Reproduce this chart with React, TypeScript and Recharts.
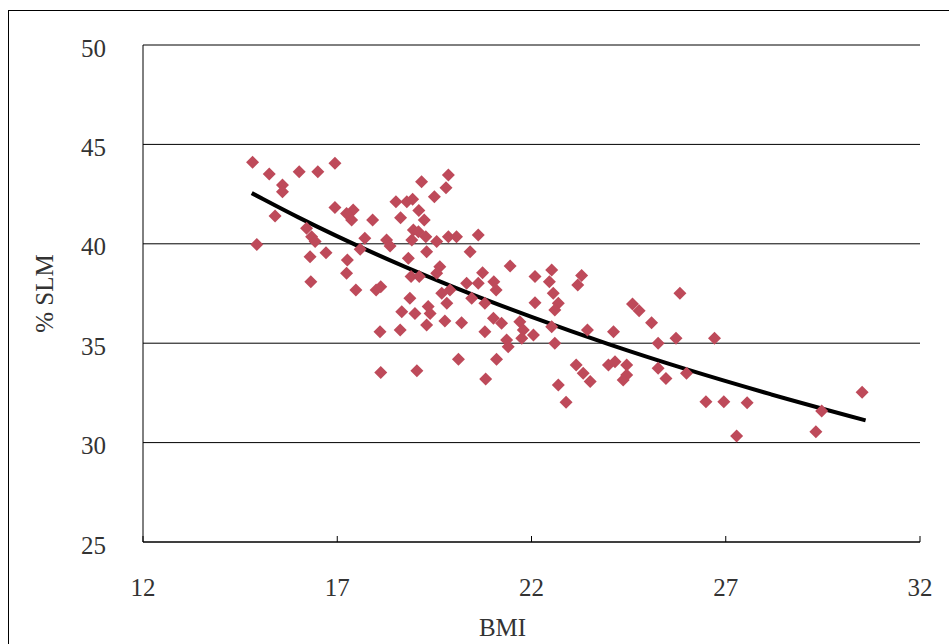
import React from "react";
import {
  ComposedChart,
  Scatter,
  Line,
  XAxis,
  YAxis,
  CartesianGrid,
} from "recharts";

// BMI / %SLM pairs
const bmi = [
  14.82, 15.25, 16.02, 16.5, 16.94, 15.59, 15.59, 15.4, 14.93, 16.94, 16.21,
  16.34, 16.43, 16.71, 16.3, 16.32,
  19.17, 19.86, 19.8, 19.5, 18.51, 18.79, 18.94, 19.1, 18.63, 19.24, 17.91,
  17.41, 17.24, 17.37, 18.96, 19.09, 18.92, 19.28, 19.56, 19.86, 20.07, 20.63,
  17.71, 18.27, 18.36, 17.59, 19.3, 20.42, 18.83, 17.26, 17.24, 19.64, 18.9,
  19.11, 19.56, 21.45, 22.52, 20.74, 21.03, 21.09, 20.63, 20.33, 22.09, 22.46,
  22.56, 19.9, 19.69, 19.82, 17.48, 18.0, 18.12, 18.87, 19.34, 19.39, 18.66,
  19.0, 22.09, 22.69, 22.6, 20.46, 20.8, 21.02, 21.23,
  19.3, 19.77, 20.2, 20.8, 18.1, 18.62, 20.12, 21.1, 18.12, 19.05, 20.82,
  21.7, 21.79, 22.05, 21.75, 21.36, 21.4, 22.52, 22.6, 23.44, 24.11, 23.15,
  23.33, 23.51, 22.69, 22.89, 23.98, 24.15, 24.45, 24.45, 24.36, 24.6, 24.77,
  25.09, 25.82, 25.26, 25.72, 26.71, 25.26, 25.46, 25.99, 26.49, 26.95, 23.19,
  23.29,
  27.55, 27.28, 29.47, 29.32, 30.51,
];

const slm = [
  44.1, 43.51, 43.63, 43.63, 44.05, 42.96, 42.62, 41.4, 39.97, 41.82, 40.78,
  40.36, 40.11, 39.55, 39.35, 38.09,
  43.12, 43.46, 42.82, 42.37, 42.12, 42.12, 42.24, 41.67, 41.31, 41.2, 41.2,
  41.7, 41.53, 41.2, 40.69, 40.61, 40.19, 40.36, 40.11, 40.36, 40.36, 40.44,
  40.28, 40.19, 39.89, 39.72, 39.6, 39.6, 39.27, 39.18, 38.52, 38.85, 38.35,
  38.35, 38.52, 38.88, 38.68, 38.55, 38.09, 37.68, 38.01, 38.01, 38.35, 38.09,
  37.51, 37.68, 37.51, 37.01, 37.68, 37.68, 37.84, 37.26, 36.84, 36.5, 36.58,
  36.5, 37.04, 37.01, 36.67, 37.26, 37.01, 36.25, 36.0,
  35.92, 36.12, 36.03, 35.58, 35.58, 35.66, 34.19, 34.19, 33.52, 33.62, 33.2,
  36.08, 35.66, 35.41, 35.25, 35.16, 34.82, 35.83, 35.0, 35.66, 35.58, 33.9,
  33.49, 33.07, 32.9, 32.03, 33.9, 34.07, 33.9, 33.4, 33.15, 36.97, 36.63,
  36.03, 37.51, 35.0, 35.25, 35.25, 33.74, 33.23, 33.49, 32.06, 32.06, 37.93,
  38.4,
  32.01, 30.33, 31.59, 30.55, 32.53,
];

// trend curve, points
const trendBmi = [14.8, 16, 18, 20, 22, 24, 26, 28, 30.6];
const trendSlm = [42.55, 41.33, 39.48, 37.82, 36.32, 34.94, 33.68, 32.52, 31.12];

const xTicks = [12, 17, 22, 27, 32];
const yTicks = [25, 30, 35, 40, 45, 50];

const points = bmi.map((x, i) => ({ x, y: slm[i] }));
const trend = trendBmi.map((x, i) => ({ x, y: trendSlm[i] }));

const FONT = "'Liberation Serif', 'Times New Roman', serif";
const textStyle = { fontFamily: FONT, fontSize: 25, fill: "#333" };

const Diamond = (props: any) => {
  const { cx, cy } = props;
  const r = 6.5;
  return (
    <polygon
      points={`${cx},${cy - r} ${cx + r},${cy} ${cx},${cy + r} ${cx - r},${cy}`}
      fill="#BE4A5A"
    />
  );
};

// x ticks: small mark pointing up into the plot, label well below
const XTick = (props: any) => {
  const { x, y, payload } = props;
  return (
    <g>
      <line x1={x} x2={x} y1={y - 6} y2={y} stroke="#000" />
      <text
        x={x}
        y={y + 45}
        textAnchor="middle"
        dominantBaseline="central"
        style={textStyle}
      >
        {payload.value}
      </text>
    </g>
  );
};

const YTick = (props: any) => {
  const { x, y, payload } = props;
  return (
    <text
      x={x - 37}
      y={y + 3}
      textAnchor="end"
      dominantBaseline="central"
      style={textStyle}
    >
      {payload.value}
    </text>
  );
};

const YLabel = (props: any) => {
  const { viewBox } = props;
  const cx = viewBox.x + 35;
  const cy = viewBox.y + viewBox.height / 2;
  return (
    <text
      x={cx}
      y={cy}
      transform={`rotate(-90, ${cx}, ${cy})`}
      textAnchor="middle"
      dominantBaseline="central"
      style={textStyle}
    >
      % SLM
    </text>
  );
};

const XLabel = (props: any) => {
  const { viewBox } = props;
  const cx = viewBox.x + viewBox.width / 2 - 29;
  const cy = viewBox.y + 85;
  return (
    <text
      x={cx}
      y={cy}
      textAnchor="middle"
      dominantBaseline="central"
      style={textStyle}
    >
      BMI
    </text>
  );
};

export default function App() {
  return (
    <div
      style={{
        position: "fixed",
        left: 8,
        top: 10,
        width: 960,
        height: 660,
        borderLeft: "1px solid #000",
        borderTop: "1px solid #000",
        background: "#fff",
      }}
    >
      <ComposedChart
        width={936}
        height={630}
        margin={{ top: 34, right: 25, left: 0, bottom: 4 }}
      >
        <CartesianGrid vertical={false} stroke="#000" strokeDasharray="" />
        <XAxis
          type="number"
          dataKey="x"
          domain={[12, 32]}
          ticks={xTicks}
          allowDataOverflow
          height={95}
          stroke="#000"
          tickLine={false}
          tickSize={0}
          tickMargin={0}
          tick={<XTick />}
          label={<XLabel />}
        />
        <YAxis
          type="number"
          dataKey="y"
          domain={[25, 50]}
          ticks={yTicks}
          allowDataOverflow
          width={134}
          stroke="#000"
          tickLine={false}
          tickSize={0}
          tickMargin={0}
          tick={<YTick />}
          label={<YLabel />}
        />
        <Scatter
          data={points}
          dataKey="y"
          shape={<Diamond />}
          isAnimationActive={false}
        />
        <Line
          data={trend}
          dataKey="y"
          type="monotone"
          stroke="#000"
          strokeWidth={4}
          dot={false}
          isAnimationActive={false}
        />
      </ComposedChart>
    </div>
  );
}
